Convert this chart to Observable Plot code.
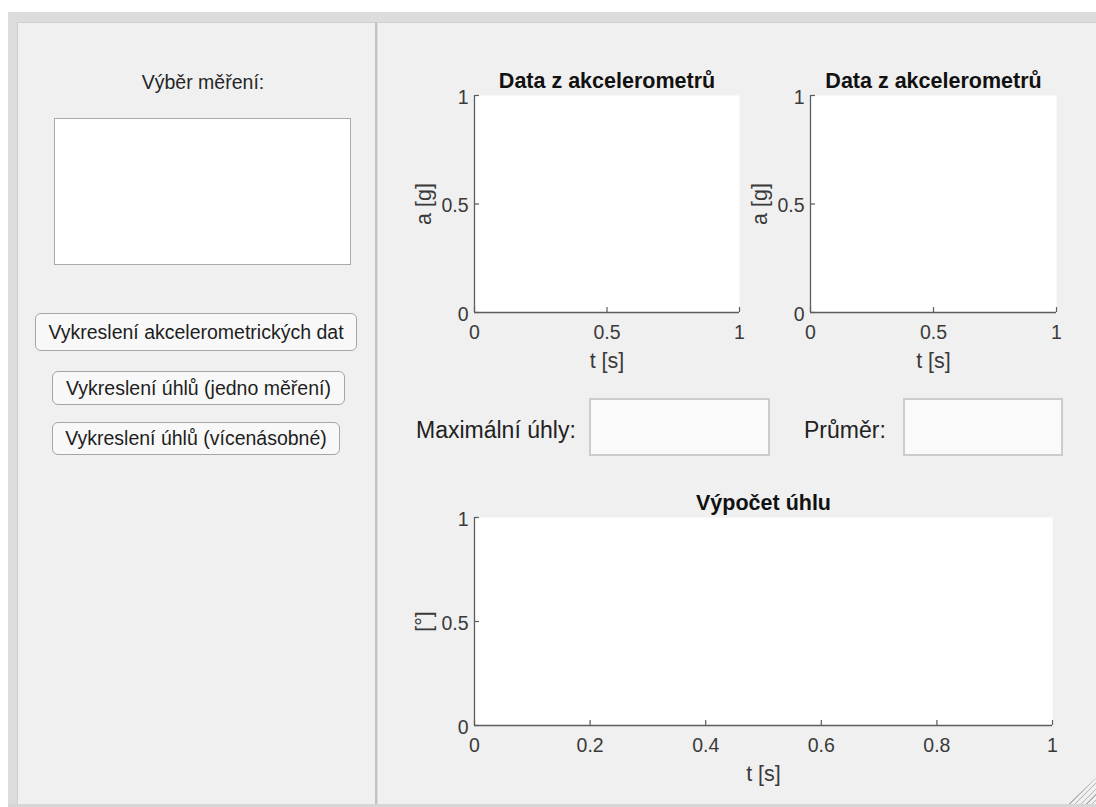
<!DOCTYPE html>
<html>
<head>
<meta charset="utf-8">
<script src="https://cdn.jsdelivr.net/npm/d3@7"></script>
<script src="https://cdn.jsdelivr.net/npm/@observablehq/plot@0.6"></script>
<style>
  html, body { margin: 0; padding: 0; width: 1096px; height: 807px; overflow: hidden; background: #ffffff;
    font-family: "Liberation Sans", Arial, sans-serif; color: #222; }
  .abs { position: absolute; box-sizing: border-box; }
  #frame { left: 8px; top: 12px; width: 1100px; height: 795px; background: #dcdcdc; }
  #leftPanel { left: 17px; top: 22px; width: 358px; height: 782px; background: #f0f0f0;
    border-left: 1px solid #cfcfcf; border-top: 1px solid #cfcfcf; }
  #sep { left: 375px; top: 22px; width: 3px; height: 782px; background: linear-gradient(to right, #c2c2c2 0 2px, #dedede 2px); }
  #rightPanel { left: 378px; top: 22px; width: 720px; height: 782px; background: #f0f0f0; border-top: 1px solid #cfcfcf; }
  #bottomLine { left: 8px; top: 804px; width: 1100px; height: 3px; background: #d6d6d6; }
  .lbl { white-space: nowrap; display: flex; align-items: center; }
  #listTitle { left: 103px; top: 70px; width: 200px; height: 24px; justify-content: center; font-size: 19.5px; color: #262626; }
  #listbox { left: 54px; top: 118px; width: 297px; height: 147px; background: #ffffff; border: 1px solid #a9a9a9; }
  .btn { display: flex; align-items: center; justify-content: center; white-space: nowrap; font-size: 19.5px; color: #1e1e1e;
    background: #f8f8f8; border: 1px solid #a6a6a6; border-radius: 6px; }
  #b1 { left: 35px; top: 313px; width: 322px; height: 38px; }
  #b2 { left: 52px; top: 371px; width: 293px; height: 34px; }
  #b3 { left: 52px; top: 422px; width: 288px; height: 33px; }
  #maxLbl { left: 416px; top: 415px; height: 30px; font-size: 23px; color: #222; }
  #avgLbl { left: 804px; top: 415px; height: 30px; font-size: 23px; color: #222; }
  .field { background: #fafafa; border: 2px solid #cccccc; }
  #tb1 { left: 589px; top: 398px; width: 181px; height: 58px; }
  #tb2 { left: 903px; top: 398px; width: 160px; height: 58px; }
  #grip { left: 1068px; top: 778px; width: 28px; height: 26px;
    background: repeating-linear-gradient(135deg, transparent 0 3px, #b4b4b4 3px 4px);
    clip-path: polygon(100% 0, 100% 100%, 0 100%); }
  .plotbox { position: absolute; }
  .plotbox svg { max-width: none; overflow: visible; }
</style>
</head>
<body>
<div id="frame" class="abs"></div>
<div id="leftPanel" class="abs"></div>
<div id="rightPanel" class="abs"></div>
<div id="sep" class="abs"></div>
<div id="bottomLine" class="abs"></div>
<div id="grip" class="abs"></div>

<div id="listTitle" class="abs lbl">Výběr měření:</div>
<div id="listbox" class="abs"></div>
<div id="b1" class="abs btn">Vykreslení akcelerometrických dat</div>
<div id="b2" class="abs btn">Vykreslení úhlů (jedno měření)</div>
<div id="b3" class="abs btn">Vykreslení úhlů (vícenásobné)</div>

<div id="maxLbl" class="abs lbl">Maximální úhly:</div>
<div id="tb1" class="abs field"></div>
<div id="avgLbl" class="abs lbl">Průměr:</div>
<div id="tb2" class="abs field"></div>

<div id="plotA" class="plotbox" style="left:380px;top:40px;"></div>
<div id="plotB" class="plotbox" style="left:750px;top:40px;"></div>
<div id="plotC" class="plotbox" style="left:380px;top:460px;"></div>

<script>
// ---- data (axes are empty: no measurement loaded) ----
const xDomain = [0, 1];
const yDomain = [0, 1];
const xTicksAcc = [0, 0.5, 1];
const xTickLabelsAcc = ["0", "0.5", "1"];
const xTicksAngle = [0, 0.2, 0.4, 0.6, 0.8, 1];
const xTickLabelsAngle = ["0", "0.2", "0.4", "0.6", "0.8", "1"];
const yTicks = [0, 0.5, 1];
const yTickLabels = ["0", "0.5", "1"];
const accTitle = "Data z akcelerometrů";
const angleTitle = "Výpočet úhlu";
const xLabel = "t [s]";
const accYLabel = "a [g]";
const angleYLabel = "[°]";
const seriesAcc1 = [];   // no data yet
const seriesAcc2 = [];
const seriesAngle = [];

const axisColor = "#5c5c5c";
const tickTextColor = "#3a3a3a";

function makeAxes({width, height, marginLeft, marginRight, marginTop, marginBottom,
                   xTicks, xTickLabels, title, yLabel, series}) {
  return Plot.plot({
    width, height, marginLeft, marginRight, marginTop, marginBottom,
    x: {domain: xDomain, axis: null},
    y: {domain: yDomain, axis: null},
    style: {background: "transparent", overflow: "visible", fontFamily: '"Liberation Sans", Arial, sans-serif', color: tickTextColor},
    marks: [
      Plot.frame({fill: "white", stroke: null}),
      Plot.line(series, {x: "t", y: "v", stroke: "#0072bd"}),
      Plot.ruleY([yDomain[0]], {stroke: axisColor, strokeWidth: 1.3}),
      Plot.ruleX([xDomain[0]], {stroke: axisColor, strokeWidth: 1.3}),
      Plot.axisX(xTicks, {tickSize: -5, text: null, stroke: axisColor, strokeWidth: 1.2, label: null}),
      Plot.axisX(xTicks, {tickSize: 0, tickPadding: 13, label: null, fontSize: 19.5, fill: tickTextColor,
        tickFormat: d => xTickLabels[xTicks.indexOf(d)]}),
      Plot.axisY(yTicks, {tickSize: -5, text: null, stroke: axisColor, strokeWidth: 1.2, label: null}),
      Plot.axisY(yTicks, {tickSize: 0, tickPadding: 6, label: null, fontSize: 19.5, fill: tickTextColor, dy: 2,
        tickFormat: d => yTickLabels[yTicks.indexOf(d)]}),
      Plot.text([title], {frameAnchor: "top", lineAnchor: "middle", textAnchor: "middle", dy: -14,
        fontSize: 21.5, fontWeight: "bold", fill: "#111"}),
      Plot.text([xLabel], {frameAnchor: "bottom", lineAnchor: "middle", textAnchor: "middle", dy: 49,
        fontSize: 21.5, fill: tickTextColor}),
      Plot.text([yLabel], {frameAnchor: "left", lineAnchor: "middle", textAnchor: "middle", dx: -50, rotate: -90,
        fontSize: 21.5, fill: tickTextColor})
    ]
  });
}

document.getElementById("plotA").append(makeAxes({
  width: 370, height: 360, marginLeft: 94, marginRight: 11, marginTop: 55, marginBottom: 88,
  xTicks: xTicksAcc, xTickLabels: xTickLabelsAcc, title: accTitle, yLabel: accYLabel, series: seriesAcc1
}));
document.getElementById("plotB").append(makeAxes({
  width: 346, height: 360, marginLeft: 60, marginRight: 40, marginTop: 55, marginBottom: 88,
  xTicks: xTicksAcc, xTickLabels: xTickLabelsAcc, title: accTitle, yLabel: accYLabel, series: seriesAcc2
}));
document.getElementById("plotC").append(makeAxes({
  width: 716, height: 347, marginLeft: 94, marginRight: 44, marginTop: 57, marginBottom: 82,
  xTicks: xTicksAngle, xTickLabels: xTickLabelsAngle, title: angleTitle, yLabel: angleYLabel, series: seriesAngle
}));
</script>
</body>
</html>
